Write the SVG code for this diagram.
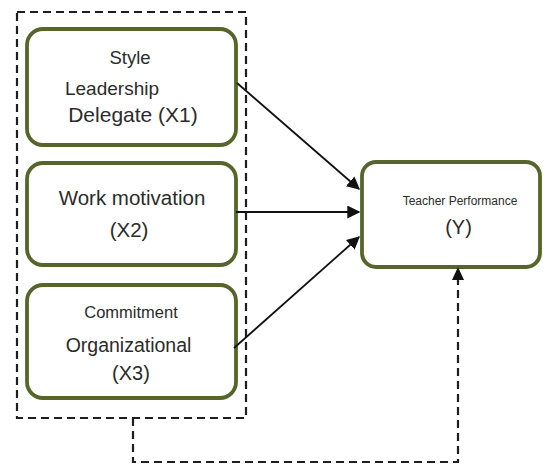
<svg xmlns="http://www.w3.org/2000/svg" width="545" height="466" viewBox="0 0 545 466">
  <style>
    .node rect { fill: #ffffff; stroke: #56662b; stroke-width: 3.8; }
    .lbl { font-family: "Liberation Sans", Arial, sans-serif; fill: #2b2b2b; text-anchor: middle; }
    .dash { fill: none; stroke: #1e1e1e; stroke-width: 2.2; stroke-dasharray: 8 5; }
    .arr { fill: none; stroke: #111111; stroke-width: 1.8; }
  </style>
  <defs>
    <marker id="head" viewBox="0 0 10 10" refX="9" refY="5" markerWidth="13" markerHeight="13" orient="auto" markerUnits="userSpaceOnUse">
      <path d="M0,0 L10,5 L0,10 z" fill="#111111"/>
    </marker>
  </defs>

  <rect width="545" height="466" fill="#ffffff"/>

  <!-- grouping frame around the independent variables -->
  <rect id="frame" class="dash" x="17" y="12" width="229" height="406"/>

  <g id="x1" class="node">
    <rect x="27" y="29" width="209" height="116" rx="16"/>
    <text class="lbl" x="130" y="64" font-size="18.5">Style</text>
    <text class="lbl" x="112" y="95" font-size="19">Leadership</text>
    <text class="lbl" x="133" y="122" font-size="21">Delegate (X1)</text>
  </g>

  <g id="x2" class="node">
    <rect x="27" y="163" width="209" height="102" rx="16"/>
    <text class="lbl" x="132" y="205" font-size="20.5">Work motivation</text>
    <text class="lbl" x="129" y="237" font-size="20.5">(X2)</text>
  </g>

  <g id="x3" class="node">
    <rect x="27" y="285" width="209" height="113" rx="16"/>
    <text class="lbl" x="131" y="318" font-size="16.5">Commitment</text>
    <text class="lbl" x="128.5" y="352" font-size="19.5">Organizational</text>
    <text class="lbl" x="131" y="380" font-size="20">(X3)</text>
  </g>

  <g id="y" class="node">
    <rect x="362" y="162" width="178" height="105" rx="14"/>
    <text class="lbl" x="460" y="205" font-size="12">Teacher Performance</text>
    <text class="lbl" x="458.5" y="234" font-size="20">(Y)</text>
  </g>

  <g id="connectors">
    <line class="arr" x1="237" y1="83" x2="359" y2="189" marker-end="url(#head)"/>
    <line class="arr" x1="236" y1="212" x2="359" y2="212" marker-end="url(#head)"/>
    <line class="arr" x1="234" y1="348" x2="359" y2="237" marker-end="url(#head)"/>
    <path class="dash" d="M133,418 V462 H458 V278"/>
    <path d="M452,280 L458,267 L464,280 z" fill="#111111"/>
  </g>
</svg>
